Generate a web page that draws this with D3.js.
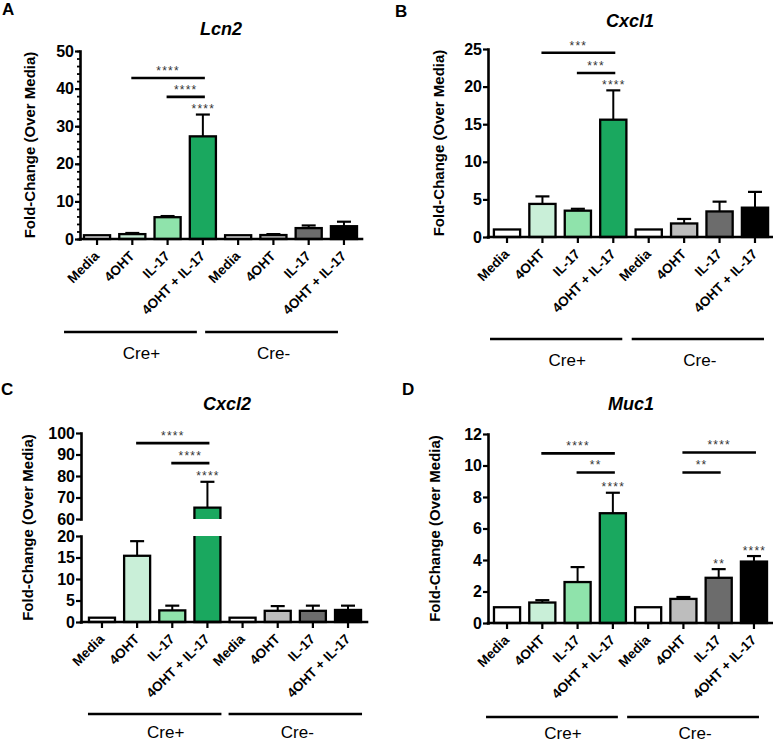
<!DOCTYPE html>
<html><head><meta charset="utf-8">
<script src="https://cdn.jsdelivr.net/npm/d3@7"></script>
<style>
body{margin:0;background:#fff}
svg{display:block}
text{font-family:"Liberation Sans",Arial,Helvetica,sans-serif;fill:#000}
</style>
</head><body>
<svg id="c" width="773" height="743"></svg>
<script>
// ---------------- data ----------------
const categories = ["Media", "4OHT", "IL-17", "4OHT + IL-17", "Media", "4OHT", "IL-17", "4OHT + IL-17"];
const groupNames = ["Cre+", "Cre-"];
const panelLetters = ["A", "B", "C", "D"];
const geneTitles = ["Lcn2", "Cxcl1", "Cxcl2", "Muc1"];
const yAxisTitle = "Fold-Change (Over Media)";

const lcn2Mean = [1, 1.3, 5.8, 27.3, 1, 1.05, 2.9, 3.4];
const lcn2Sem  = [0, 0.3, 0.3, 5.8, 0, 0.25, 0.7, 1.2];
const lcn2Ticks = [0, 10, 20, 30, 40, 50];
const lcn2Comparisons = [[1, 3, 42.8, "****"], [2, 3, 37.8, "****"]];
const lcn2BarStars = ["", "", "", "****", "", "", "", ""];

const cxcl1Mean = [1, 4.4, 3.5, 15.6, 1, 1.8, 3.4, 3.9];
const cxcl1Sem  = [0, 1.0, 0.25, 3.9, 0, 0.6, 1.3, 2.1];
const cxcl1Ticks = [0, 5, 10, 15, 20, 25];
const cxcl1Comparisons = [[1, 3, 24.5, "***"], [2, 3, 21.8, "***"]];
const cxcl1BarStars = ["", "", "", "****", "", "", "", ""];

const cxcl2Mean = [1, 15.4, 2.7, 65.3, 1, 2.6, 2.6, 2.8];
const cxcl2Sem  = [0, 3.4, 1.1, 12, 0, 1.1, 1.2, 1.0];
const cxcl2LowerTicks = [0, 5, 10, 15, 20];
const cxcl2UpperTicks = [60, 70, 80, 90, 100];
const cxcl2Comparisons = [[1, 3, 95.3, "****"], [2, 3, 86, "****"]];
const cxcl2BarStars = ["", "", "", "****", "", "", "", ""];

const muc1Mean = [1, 1.3, 2.6, 6.97, 1, 1.53, 2.87, 3.9];
const muc1Sem  = [0, 0.15, 0.95, 1.3, 0, 0.12, 0.55, 0.35];
const muc1Ticks = [0, 2, 4, 6, 8, 10, 12];
const muc1Comparisons = [[1, 3, 10.77, "****"], [2, 3, 9.56, "**"], [5, 7, 10.83, "****"], [5, 6, 9.56, "**"]];
const muc1BarStars = ["", "", "", "****", "", "", "**", "****"];

// ---------------- styles / layout ----------------
const barFills = ["#ffffff", "#c9efd8", "#8fe3ab", "#1aa85f", "#ffffff", "#bdbdbd", "#6c6c6c", "#000000"];

const panels = [
  { letter: panelLetters[0], title: geneTitles[0], mean: lcn2Mean, sem: lcn2Sem, comps: lcn2Comparisons, stars: lcn2BarStars,
    segments: [{ domain: [0, 50], range: [239, 51], ticks: lcn2Ticks, minor: 2 }],
    axisX: 80, xRange: [79.4, 361.6], xEnd: 362, titlePos: [221, 35], letterPos: [2, 15], yTitleX: 35,
    gLineY: 332, gTextY: 359, gOff: [-33, -6] },
  { letter: panelLetters[1], title: geneTitles[1], mean: cxcl1Mean, sem: cxcl1Sem, comps: cxcl1Comparisons, stars: cxcl1BarStars,
    segments: [{ domain: [0, 25], range: [237, 49], ticks: cxcl1Ticks }],
    axisX: 488, xRange: [489.3, 772.7], xEnd: 773, titlePos: [630, 27], letterPos: [395, 17], yTitleX: 444,
    gLineY: 339, gTextY: 366, gOff: [-17, 9] },
  { letter: panelLetters[2], title: geneTitles[2], mean: cxcl2Mean, sem: cxcl2Sem, comps: cxcl2Comparisons, stars: cxcl2BarStars,
    segments: [{ domain: [0, 20], range: [622, 536], ticks: cxcl2LowerTicks },
               { domain: [60, 100], range: [519, 433], ticks: cxcl2UpperTicks }],
    axisX: 81, xRange: [84.4, 365.6], xEnd: 367, titlePos: [227, 410], letterPos: [1, 395], yTitleX: 33,
    gLineY: 714, gTextY: 738, gOff: [-14, 14] },
  { letter: panelLetters[3], title: geneTitles[3], mean: muc1Mean, sem: muc1Sem, comps: muc1Comparisons, stars: muc1BarStars,
    segments: [{ domain: [0, 12], range: [623, 434], ticks: muc1Ticks }],
    axisX: 488, xRange: [489.4, 771.6], xEnd: 773, titlePos: [631, 410], letterPos: [402, 395], yTitleX: 440,
    gLineY: 717, gTextY: 739, gOff: [-21, 5] }
];

const svg = d3.select("#c");

function drawPanel(p) {
  const g = svg.append("g");
  const x = d3.scaleBand().domain(d3.range(categories.length)).range(p.xRange)
    .paddingInner(0.26).paddingOuter(0.13);
  const bw = x.bandwidth();
  const cx = i => x(i) + bw / 2;

  const segs = p.segments.map(s => ({ ...s, scale: d3.scaleLinear().domain(s.domain).range(s.range) }));
  const lower = segs[0];
  const yZero = lower.scale(0);
  function yPos(v) {
    for (let k = segs.length - 1; k >= 0; k--) {
      if (v >= segs[k].domain[0]) return segs[k].scale(Math.min(v, segs[k].domain[1]));
    }
    return lower.scale(v);
  }

  // y axis segments
  segs.forEach(s => {
    if (s.minor) {
      const mg = g.append("g").attr("transform", `translate(${p.axisX},0)`)
        .call(d3.axisLeft(s.scale).tickValues(d3.range(s.domain[0], s.domain[1] + 0.001, s.minor))
          .tickSize(3).tickFormat("").tickSizeOuter(0));
      mg.select(".domain").remove();
      mg.selectAll(".tick line").attr("stroke", "#000").attr("stroke-width", 1.8);
    }
    const ag = g.append("g").attr("transform", `translate(${p.axisX},0)`)
      .call(d3.axisLeft(s.scale).tickValues(s.ticks).tickSize(5).tickPadding(1).tickSizeOuter(0));
    ag.select(".domain").attr("stroke", "#000").attr("stroke-width", 2.6).attr("stroke-linecap", "square");
    ag.selectAll(".tick line").attr("stroke", "#000").attr("stroke-width", 2.2);
    ag.selectAll(".tick text").attr("font-size", 16).attr("font-weight", "bold")
      .attr("font-family", '"Liberation Sans",Arial,sans-serif').attr("fill", "#000");
  });

  // bars
  p.mean.forEach((m, i) => {
    const x0 = x(i);
    if (segs.length > 1 && m > lower.domain[1]) {
      const upper = segs[1];
      const yt = upper.scale(m), yb = upper.scale(upper.domain[0]);
      const lt = lower.scale(lower.domain[1]);
      g.append("rect").attr("x", x0).attr("y", yt).attr("width", bw).attr("height", yb - yt).attr("fill", barFills[i]);
      g.append("rect").attr("x", x0).attr("y", lt).attr("width", bw).attr("height", yZero - lt).attr("fill", barFills[i]);
      g.append("path").attr("d", `M${x0},${yb}V${yt}H${x0 + bw}V${yb}`)
        .attr("fill", "none").attr("stroke", "#000").attr("stroke-width", 2.3);
      g.append("path").attr("d", `M${x0},${lt}V${yZero}H${x0 + bw}V${lt}`)
        .attr("fill", "none").attr("stroke", "#000").attr("stroke-width", 2.3);
    } else {
      const yt = yPos(m);
      g.append("rect").attr("x", x0).attr("y", yt).attr("width", bw).attr("height", yZero - yt)
        .attr("fill", barFills[i]).attr("stroke", "#000").attr("stroke-width", 2.3);
    }
  });

  // error bars
  p.mean.forEach((m, i) => {
    const s = p.sem[i];
    if (!s) return;
    const c = cx(i), y1 = yPos(m), y2 = yPos(m + s);
    g.append("line").attr("x1", c).attr("x2", c).attr("y1", y1).attr("y2", y2)
      .attr("stroke", "#000").attr("stroke-width", 2);
    g.append("line").attr("x1", c - 7).attr("x2", c + 7).attr("y1", y2).attr("y2", y2)
      .attr("stroke", "#000").attr("stroke-width", 2.2);
  });

  // x axis
  g.append("line").attr("x1", p.axisX).attr("x2", p.xEnd).attr("y1", yZero).attr("y2", yZero)
    .attr("stroke", "#000").attr("stroke-width", 2.6).attr("stroke-linecap", "square");
  categories.forEach((cat, i) => {
    g.append("line").attr("x1", cx(i)).attr("x2", cx(i)).attr("y1", yZero).attr("y2", yZero + 6)
      .attr("stroke", "#000").attr("stroke-width", 2.2);
    g.append("text").attr("transform", `translate(${cx(i) + 3},${yZero + 18}) rotate(-45)`)
      .attr("text-anchor", "end").attr("font-size", 13.5).attr("font-weight", "bold").text(cat);
  });

  // significance comparisons
  p.comps.forEach(([a, b, lvl, lab]) => {
    const yy = yPos(lvl);
    g.append("line").attr("x1", cx(a) - 1).attr("x2", cx(b) + 2).attr("y1", yy).attr("y2", yy)
      .attr("stroke", "#000").attr("stroke-width", 2.6);
    g.append("text").attr("x", (cx(a) + cx(b)) / 2 + 0.5).attr("y", yy - 3).attr("text-anchor", "middle")
      .attr("font-size", 12).attr("letter-spacing", 1.2).style("fill", "#333").text(lab);
  });
  p.stars.forEach((lab, i) => {
    if (!lab) return;
    const top = yPos(p.mean[i] + p.sem[i]);
    g.append("text").attr("x", cx(i) + 0.5).attr("y", top - 1.5).attr("text-anchor", "middle")
      .attr("font-size", 12).attr("letter-spacing", 1.2).style("fill", "#333").text(lab);
  });

  // group lines
  groupNames.forEach((gn, k) => {
    const first = k * 4, last = k * 4 + 3;
    const xa = cx(first) + p.gOff[0], xb = cx(last) + p.gOff[1];
    g.append("line").attr("x1", xa).attr("x2", xb).attr("y1", p.gLineY).attr("y2", p.gLineY)
      .attr("stroke", "#000").attr("stroke-width", 2.6);
    g.append("text").attr("x", (xa + xb) / 2 + (k === 0 ? 11 : 2)).attr("y", p.gTextY)
      .attr("text-anchor", "middle").attr("font-size", 17).text(gn);
  });

  // titles
  g.append("text").attr("x", p.titlePos[0]).attr("y", p.titlePos[1]).attr("text-anchor", "middle")
    .attr("font-size", 18).attr("font-weight", "bold").attr("font-style", "italic").text(p.title);
  g.append("text").attr("x", p.letterPos[0]).attr("y", p.letterPos[1])
    .attr("font-size", 17).attr("font-weight", "bold").text(p.letter);
  const yMid = (d3.min(segs, s => s.range[1]) + yZero) / 2;
  g.append("text").attr("transform", `translate(${p.yTitleX},${yMid}) rotate(-90)`)
    .attr("text-anchor", "middle").attr("font-size", 15).attr("font-weight", "bold").text(yAxisTitle);
}

panels.forEach(drawPanel);
</script>
</body></html>
